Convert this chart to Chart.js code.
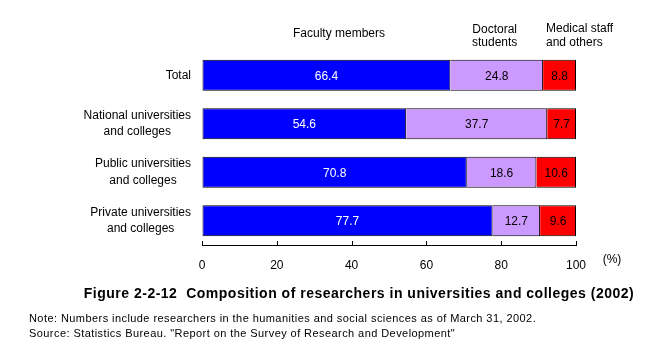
<!DOCTYPE html>
<html>
<head>
<meta charset="utf-8">
<script src="https://cdn.jsdelivr.net/npm/chart.js@4"></script>
<style>
  body { margin:0; background:#fff; font-family:"Liberation Sans", Arial, sans-serif; }
  #wrap { position:relative; width:664px; height:354px; }
  #wrap canvas { position:absolute; left:0; top:0; }
  .lbl { position:absolute; font-size:12px; color:#000; line-height:13px; white-space:nowrap; }
  #title { position:absolute; left:0; width:718px; top:285px; text-align:center; font-size:14px; font-weight:bold; letter-spacing:0.5px; white-space:nowrap; }
  .note { position:absolute; left:29px; font-size:11px; letter-spacing:0.43px; white-space:nowrap; }
</style>
</head>
<body>
<div id="wrap">
  <canvas id="c" width="664" height="354"></canvas>
  <div class="lbl" id="h0" style="left:293px;top:27px"></div>
  <div class="lbl" id="h1" style="left:472px;top:23px;text-align:center"></div>
  <div class="lbl" id="h2" style="left:546px;top:21px;line-height:14px"></div>
  <div id="title">Figure 2-2-12&nbsp; Composition of researchers in universities and colleges (2002)</div>
  <div class="note" style="top:312px">Note: Numbers include researchers in the humanities and social sciences as of March 31, 2002.</div>
  <div class="note" style="top:327px">Source: Statistics Bureau. "Report on the Survey of Research and Development"</div>
</div>
<script>
// ── data ──────────────────────────────────────────────────────────
const categories = [
  ["Total"],
  ["National universities", "and colleges"],
  ["Public universities", "and colleges"],
  ["Private universities", "and colleges"]
];
const seriesNames = [["Faculty members"], ["Doctoral", "students"], ["Medical staff", "and others"]];
const faculty  = [66.4, 54.6, 70.8, 77.7];
const doctoral = [24.8, 37.7, 18.6, 12.7];
const medical  = [8.8, 7.7, 10.6, 9.6];
const xTicks = [0, 20, 40, 60, 80, 100];
const COLORS = ["#0000ff", "#cc99ff", "#ff0000"];
const LABEL_COLORS = ["#fff", "#000", "#000"];

seriesNames.forEach((s, i) => { document.getElementById("h" + i).innerHTML = s.join("<br>"); });

const FONT = '12px "Liberation Sans", Arial, sans-serif';

// bar values, category labels, inner ticks, (%)
const drawExtras = {
  id: "extras",
  afterDatasetsDraw(chart) {
    const ctx = chart.ctx;
    ctx.save();
    ctx.font = FONT;
    ctx.textBaseline = "middle";
    ctx.textAlign = "center";
    chart.data.datasets.forEach((ds, di) => {
      chart.getDatasetMeta(di).data.forEach((bar, i) => {
        const p = bar.getProps(["x", "base", "y"], true);
        ctx.fillStyle = LABEL_COLORS[di];
        ctx.fillText(ds.data[i].toFixed(1), (p.x + p.base) / 2, p.y + 1);
      });
    });

    // category labels: block right-aligned, lines centered in block
    const ys = chart.scales.y;
    const rightEdge = ys.right - 11;
    const lh = 16.5;
    categories.forEach((lines, i) => {
      const w = Math.max(...lines.map(l => ctx.measureText(l).width));
      const cx = rightEdge - w / 2;
      const cy = ys.getPixelForTick(i);
      lines.forEach((l, k) => {
        ctx.fillStyle = "#000";
        ctx.fillText(l, cx, cy + (k - (lines.length - 1) / 2) * lh);
      });
    });

    // small upward ticks on the x axis
    const xs = chart.scales.x;
    ctx.strokeStyle = "#000";
    ctx.lineWidth = 1;
    xTicks.forEach(v => {
      const x = Math.round(xs.getPixelForValue(v)) + 0.5;
      ctx.beginPath();
      ctx.moveTo(x, xs.top);
      ctx.lineTo(x, xs.top - 4);
      ctx.stroke();
    });
    ctx.fillStyle = "#000";
    ctx.fillText("(%)", xs.right + 36, xs.top + 15);
    ctx.restore();
  }
};

const borderFirst = { left: 1, top: 1, bottom: 1, right: 1 };
const borderRest = { left: 0, top: 1, bottom: 1, right: 1 };

new Chart(document.getElementById("c").getContext("2d"), {
  type: "bar",
  data: {
    labels: categories,
    datasets: [
      { label: seriesNames[0].join(" "), data: faculty, backgroundColor: COLORS[0], borderColor: "#000", borderWidth: borderFirst, borderSkipped: false },
      { label: seriesNames[1].join(" "), data: doctoral, backgroundColor: COLORS[1], borderColor: "#000", borderWidth: borderRest, borderSkipped: false },
      { label: seriesNames[2].join(" "), data: medical, backgroundColor: COLORS[2], borderColor: "#000", borderWidth: borderRest, borderSkipped: false }
    ]
  },
  options: {
    indexAxis: "y",
    responsive: false,
    animation: false,
    layout: { padding: { left: 0, right: 88, top: 51, bottom: 79 } },
    plugins: { legend: { display: false }, tooltip: { enabled: false } },
    datasets: { bar: { categoryPercentage: 1, barPercentage: 0.64 } },
    scales: {
      x: {
        stacked: true, min: 0, max: 100,
        afterFit: s => { s.height = 30; },
        afterBuildTicks: s => { s.ticks = xTicks.map(v => ({ value: v })); },
        grid: { drawOnChartArea: false, drawTicks: false },
        border: { display: true, color: "#000", width: 1 },
        ticks: { color: "#000", font: { family: '"Liberation Sans", Arial, sans-serif', size: 12 }, padding: 13, maxRotation: 0 }
      },
      y: {
        stacked: true,
        afterFit: s => { s.width = 202; },
        grid: { display: false, drawTicks: false },
        border: { display: false },
        ticks: { display: false }
      }
    }
  },
  plugins: [drawExtras]
});
</script>
</body>
</html>
